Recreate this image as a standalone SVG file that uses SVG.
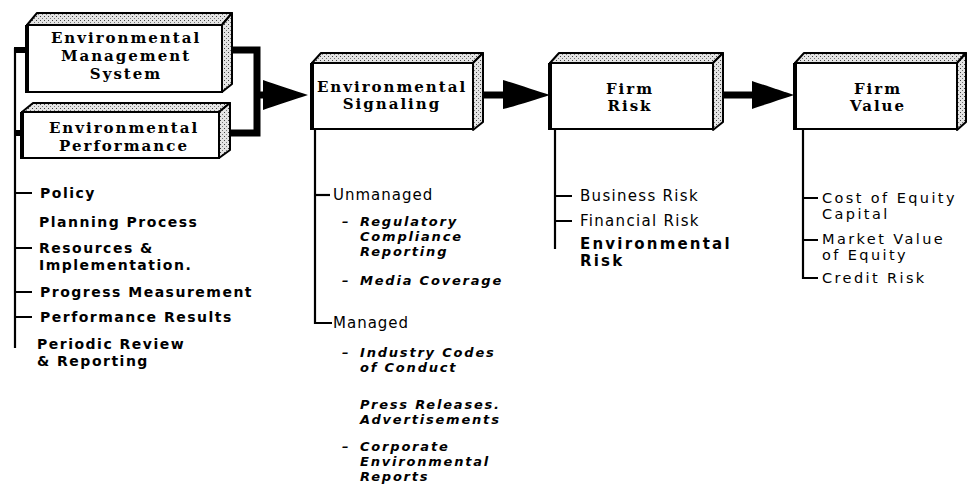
<svg xmlns="http://www.w3.org/2000/svg" width="970" height="488" viewBox="0 0 970 488">
<style>
.front{fill:#fff;stroke:#000;stroke-width:2}
.edge{stroke:#000;stroke-width:4;fill:none}
.stip{fill:url(#stip);stroke:#000;stroke-width:2;stroke-linejoin:round}
.title{font-family:"DejaVu Serif","Liberation Serif",serif;font-weight:bold;font-size:15px;letter-spacing:2px;text-anchor:middle;fill:#000}
.thin{stroke:#000;stroke-width:2.2;fill:none}
.thick{stroke:#000;stroke-width:7;fill:none}
.arm{stroke:#000;stroke-width:6;fill:none}
.head{fill:#000}
.lft{font-family:"DejaVu Sans","Liberation Sans",sans-serif;font-weight:bold;font-size:14px;letter-spacing:1.5px;fill:#000}
.mid{font-family:"DejaVu Sans","Liberation Sans",sans-serif;font-size:15px;letter-spacing:1px;fill:#000}
.ital{font-family:"DejaVu Sans","Liberation Sans",sans-serif;font-style:italic;font-weight:bold;font-size:13px;letter-spacing:1.8px;fill:#000}
.rt{font-family:"DejaVu Sans","Liberation Sans",sans-serif;font-size:15px;letter-spacing:1.3px;fill:#000}
.rv{font-family:"DejaVu Sans","Liberation Sans",sans-serif;font-size:14.5px;letter-spacing:2.4px;fill:#000}
.rtb{font-family:"DejaVu Sans","Liberation Sans",sans-serif;font-weight:bold;font-size:15px;letter-spacing:2.2px;fill:#000}
</style>
<defs>
<pattern id="stip" width="4" height="4" patternUnits="userSpaceOnUse">
<rect width="4" height="4" fill="#e4e4e4"/>
<rect x="0" y="0" width="1" height="1" fill="#444"/>
<rect x="2" y="2" width="1" height="1" fill="#777"/>
</pattern>
</defs>
<rect width="970" height="488" fill="#fff"/>

<g id="connectors">
<path class="thin" d="M15,48 V348"/>
<path class="arm" d="M14,50 H28 M14,133 H23"/>
<path class="thin" d="M15,193 H32 M15,248 H32 M15,292 H32 M15,317 H32"/>
<path class="thick" d="M231,50 H257 V133 H230"/>
<path class="thick" d="M257,95 H268"/>
<path class="head" d="M263,80 C275,84 295,91 308,95 C295,99 275,106 263,110 Z"/>
<path class="thick" d="M483,95 H508"/>
<path class="head" d="M503,80 C516,84 537,91 550,95 C537,99 516,106 503,109 Z"/>
<path class="thick" d="M723,95 H756"/>
<path class="head" d="M752,81 C764,85 782,91 794,95 C782,99 764,105 752,109 Z"/>
<path class="thin" d="M315,130 V323 H332"/>
<path class="thin" d="M315,195 H330"/>
<path class="thin" d="M555,130 V249"/>
<path class="thin" d="M555,196 H572 M555,221 H572"/>
<path class="thin" d="M803,130 V278 H818"/>
<path class="thin" d="M803,198 H818 M803,240 H818"/>
</g>

<g id="ems">
<polygon class="stip" points="27,25 37,13 232,13 222,25"/>
<polygon class="stip" points="222,25 232,13 232,84 222,92"/>
<rect class="front" x="27" y="25" width="195" height="67"/>
<path class="edge" d="M27,25 V93"/>
<text class="title" x="126" y="43" letter-spacing="2.5">Environmental</text>
<text class="title" x="126" y="61" letter-spacing="2.5">Management</text>
<text class="title" x="126" y="79" letter-spacing="2.5">System</text>
</g>

<g id="ep">
<polygon class="stip" points="22,112 33,103 230,103 219,112"/>
<polygon class="stip" points="219,112 230,103 230,150 219,158"/>
<rect class="front" x="22" y="112" width="197" height="46"/>
<path class="edge" d="M22,112 V159"/>
<text class="title" x="124" y="133" letter-spacing="2.5">Environmental</text>
<text class="title" x="124" y="151" letter-spacing="2.5">Performance</text>
</g>

<g id="signaling">
<polygon class="stip" points="312,63 321,53 483,53 473,63"/>
<polygon class="stip" points="473,63 483,53 483,122 473,130"/>
<rect class="front" x="312" y="63" width="161" height="66"/>
<path class="edge" d="M312,63 V130"/>
<text class="title" x="392" y="92">Environmental</text>
<text class="title" x="392" y="109">Signaling</text>
</g>

<g id="firmrisk">
<polygon class="stip" points="550,63 559,53 723,53 713,63"/>
<polygon class="stip" points="713,63 723,53 723,122 713,130"/>
<rect class="front" x="550" y="63" width="163" height="66"/>
<path class="edge" d="M550,63 V130"/>
<text class="title" x="630" y="94">Firm</text>
<text class="title" x="630" y="111">Risk</text>
</g>

<g id="firmvalue">
<polygon class="stip" points="795,63 804,53 966,53 957,63"/>
<polygon class="stip" points="957,63 966,53 966,122 957,130"/>
<rect class="front" x="795" y="63" width="162" height="66"/>
<path class="edge" d="M795,63 V130"/>
<text class="title" x="878" y="94">Firm</text>
<text class="title" x="878" y="111">Value</text>
</g>

<g id="ems-items">
<text class="lft" x="40" y="198">Policy</text>
<text class="lft" x="39" y="227">Planning Process</text>
<text class="lft" x="39" y="253">Resources &amp;</text>
<text class="lft" x="39" y="270">Implementation.</text>
<text class="lft" x="40" y="297">Progress Measurement</text>
<text class="lft" x="40" y="322">Performance Results</text>
<text class="lft" x="37" y="349">Periodic Review</text>
<text class="lft" x="37" y="366">&amp; Reporting</text>
</g>

<g id="signaling-items">
<text class="mid" x="333" y="200">Unmanaged</text>
<text class="ital" y="226"><tspan x="342">–</tspan><tspan x="360">Regulatory</tspan></text>
<text class="ital" x="360" y="241">Compliance</text>
<text class="ital" x="360" y="256">Reporting</text>
<text class="ital" y="285"><tspan x="342">–</tspan><tspan x="360">Media Coverage</tspan></text>
<text class="mid" x="333" y="328">Managed</text>
<text class="ital" y="357"><tspan x="342">–</tspan><tspan x="360">Industry Codes</tspan></text>
<text class="ital" x="360" y="372">of Conduct</text>
<text class="ital" x="360" y="409">Press Releases.</text>
<text class="ital" x="360" y="424">Advertisements</text>
<text class="ital" y="451"><tspan x="342">–</tspan><tspan x="360">Corporate</tspan></text>
<text class="ital" x="360" y="466">Environmental</text>
<text class="ital" x="360" y="481">Reports</text>
</g>

<g id="firmrisk-items">
<text class="rt" x="580" y="201">Business Risk</text>
<text class="rt" x="580" y="226">Financial Risk</text>
<text class="rtb" x="580" y="249">Environmental</text>
<text class="rtb" x="580" y="266">Risk</text>
</g>

<g id="firmvalue-items">
<text class="rv" x="822" y="203">Cost of Equity</text>
<text class="rv" x="822" y="219">Capital</text>
<text class="rv" x="822" y="244">Market Value</text>
<text class="rv" x="822" y="260">of Equity</text>
<text class="rv" x="822" y="283">Credit Risk</text>
</g>
</svg>
